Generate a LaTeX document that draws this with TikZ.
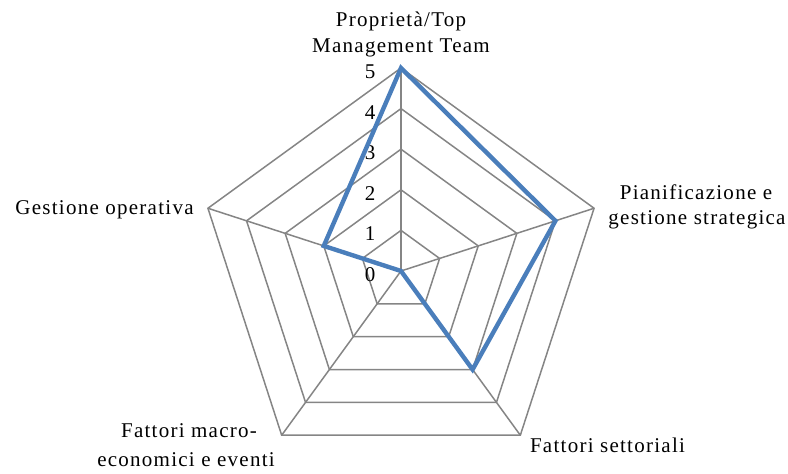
\documentclass[tikz,border=0pt]{standalone}
\usepackage{fontspec}
\setmainfont{Liberation Serif}
\usetikzlibrary{calc}
\definecolor{gridgray}{HTML}{858585}
\definecolor{seriesblue}{HTML}{4A7EBB}
\begin{document}
\begin{tikzpicture}[x=1pt,y=1pt,
  grid/.style={draw=gridgray, line width=1.5pt, line join=miter},
  series/.style={draw=seriesblue, line width=4.4pt, line join=miter},
  lbl/.style={font=\fontsize{21}{24}\selectfont\addfontfeatures{LetterSpace=6}, inner sep=0pt, anchor=base},
  lvl/.style={font=\fontsize{21}{24}\selectfont, inner sep=0pt}]
\useasboundingbox (0,0) rectangle (788,474);
\coordinate (C) at (401,203);
% grid pentagons
\foreach \k in {1,...,5}{
  \draw[grid] ($(C)+(90:\k*40.6)$) -- ($(C)+(18:\k*40.6)$) -- ($(C)+(-54:\k*40.6)$) -- ($(C)+(-126:\k*40.6)$) -- ($(C)+(162:\k*40.6)$) -- cycle;
}
% spokes
\foreach \a in {90,18,-54,-126,162}{
  \draw[grid] (C) -- ($(C)+(\a:203)$);
}
% level labels
\foreach \k in {0,...,5}{
  \node[lvl] (lv\k) at (370,{203+40.6*\k-3.5}) {\k};
}
% series
\coordinate (s1) at ($(C)+(90:203)$);
\coordinate (s2) at ($(C)+(18:162.4)$);
\coordinate (s3) at ($(C)+(-54:121.8)$);
\coordinate (s5) at ($(C)+(162:81.2)$);
\draw[series] (s1) -- (s2) -- (s3) -- (C) -- (s5) -- cycle;
% axis labels
\node[lbl] (t1) at (401,447) {Proprietà/Top};
\node[lbl] (t2) at (401,421) {Management Team};
\node[lbl] (p1) at (696,274) {Pianificazione e};
\node[lbl] (p2) at (697,249) {gestione strategica};
\node[lbl] (g1) at (104.5,259) {Gestione operativa};
\node[lbl] (m1) at (189,36) {Fattori macro-};
\node[lbl] (m2) at (186,7) {economici e eventi};
\node[lbl] (f1) at (607.5,21) {Fattori settoriali};
\end{tikzpicture}
\end{document}
